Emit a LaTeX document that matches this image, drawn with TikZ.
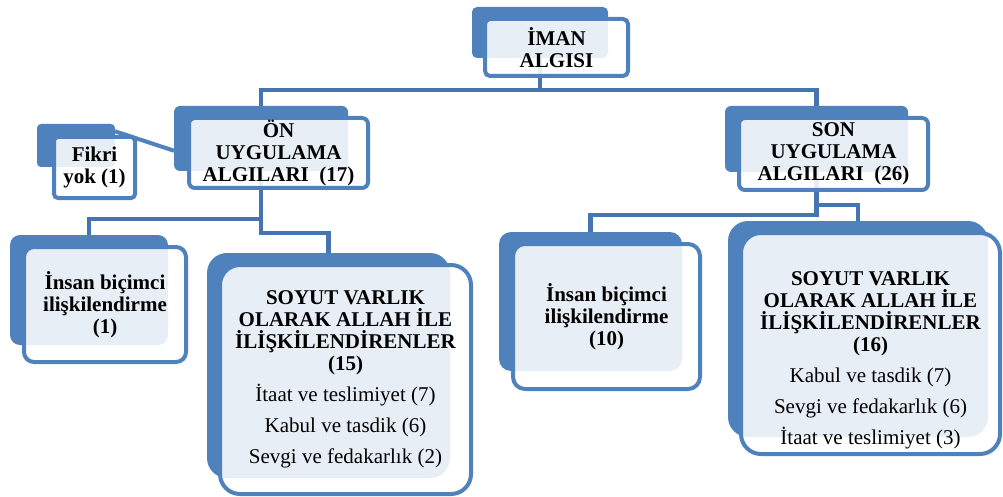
\documentclass[tikz,border=0pt]{standalone}
\usepackage{fontspec}
\setmainfont{Liberation Serif}
\usepackage{tikz}
\usetikzlibrary{backgrounds}
\definecolor{smblue}{HTML}{4F81BD}
\definecolor{lineblue}{HTML}{4674B0}

\begin{document}
\begin{tikzpicture}[
    x=1pt, y=-1pt,
    back/.style={rectangle, fill=smblue, inner sep=0pt, outer sep=0pt},
    front/.style={rectangle, draw=smblue, line width=4pt, fill=white, fill opacity=0.87, draw opacity=1, inner sep=0pt, outer sep=0pt},
    head/.style={align=center, inner sep=0pt, font=\fontsize{21}{22}\selectfont\bfseries},
    conn/.style={draw=lineblue, line width=4.5pt},
    side/.style={draw=smblue, line width=4pt}
]
    \useasboundingbox (0,0) rectangle (1003,497);

    % Top level
    \node[back, minimum width=136, minimum height=51, rounded corners=5] (imanb) at (540,32.5) {};
    \node[front, minimum width=143, minimum height=57, rounded corners=5] (iman) at (556.5,47.5) {};
    \node[head] (imant) at (iman) {İMAN\\ALGISI};

    % Second level
    \node[back, minimum width=174, minimum height=65, rounded corners=6] (onb) at (261,138.5) {};
    \node[front, minimum width=179, minimum height=70, rounded corners=6] (on) at (278.5,153) {};
    \node[head] (ont) at (on) {ÖN\\UYGULAMA\\ALGILARI~~(17)};

    \node[back, minimum width=183, minimum height=66, rounded corners=6] (sonb) at (816.5,139) {};
    \node[front, minimum width=189, minimum height=72, rounded corners=6] (son) at (833.5,154) {};
    \node[head] (sont) at (son) {SON\\UYGULAMA\\ALGILARI~~(26)};

    % Assistant
    \node[back, minimum width=78, minimum height=43, rounded corners=4] (fikrib) at (76,145.5) {};
    \node[front, minimum width=81, minimum height=61, rounded corners=4] (fikri) at (94.5,167.5) {};
    \node[head] (fikrit) at (fikri) {Fikri\\yok (1)};

    % Third level, left
    \node[back, minimum width=158, minimum height=110, rounded corners=10] (insan1b) at (89,290) {};
    \node[front, minimum width=162, minimum height=115, rounded corners=10] (insan1) at (105,304.5) {};
    \node[head] (insan1t) at (insan1) {İnsan biçimci\\ilişkilendirme\\(1)};

    \node[back, minimum width=243, minimum height=225, rounded corners=20] (soyut1b) at (328.5,365.5) {};
    \node[front, minimum width=251, minimum height=229, rounded corners=20] (soyut1) at (345.5,379.5) {};
    \node[head] (soyut1t) at (soyut1) {SOYUT VARLIK\\OLARAK ALLAH İLE\\İLİŞKİLENDİRENLER\\(15)\\[9pt]
        \mdseries İtaat ve teslimiyet (7)\\[9pt]\mdseries Kabul ve tasdik (6)\\[9pt]\mdseries Sevgi ve fedakarlık (2)};

    % Third level, right
    \node[back, minimum width=183, minimum height=139, rounded corners=12] (insan2b) at (590.5,301.5) {};
    \node[front, minimum width=187, minimum height=145, rounded corners=12] (insan2) at (606.5,316.5) {};
    \node[head] (insan2t) at (insan2) {İnsan biçimci\\ilişkilendirme\\(10)};

    \node[back, minimum width=260, minimum height=216, rounded corners=20] (soyut2b) at (858,329) {};
    \node[front, minimum width=259, minimum height=221, rounded corners=20] (soyut2) at (870.5,343.5) {};
    \node[head] (soyut2t) at ([yshift=-17]soyut2.center) {SOYUT VARLIK\\OLARAK ALLAH İLE\\İLİŞKİLENDİRENLER\\(16)\\[9pt]
        \mdseries Kabul ve tasdik (7)\\[9pt]\mdseries Sevgi ve fedakarlık (6)\\[9pt]\mdseries İtaat ve teslimiyet (3)};

    % Connectors
    \coordinate (lvla) at (0,90);
    \coordinate (lvlb) at (0,219);
    \coordinate (lvlc) at (0,233);
    \coordinate (lvld) at (0,215);
    \coordinate (lvle) at (0,205);
    \begin{scope}[on background layer]
        \draw[conn] (imanb.center) -- (imanb.center |- lvla) -| (onb.north);
        \draw[conn] (imanb.center) -- (imanb.center |- lvla) -| (sonb.north);
        \draw[conn] (onb.center) -- (onb.center |- lvlb) -| (insan1b.north);
        \draw[conn] (onb.center) -- (onb.center |- lvlc) -| (soyut1b.north);
        \draw[conn] (sonb.center) -- (sonb.center |- lvld) -| (insan2b.north);
        \draw[conn] (sonb.center) -- (sonb.center |- lvle) -| (soyut2b.north);
        \draw[side] (fikrib.20) -- (onb.188);
    \end{scope}
\end{tikzpicture}
\end{document}
